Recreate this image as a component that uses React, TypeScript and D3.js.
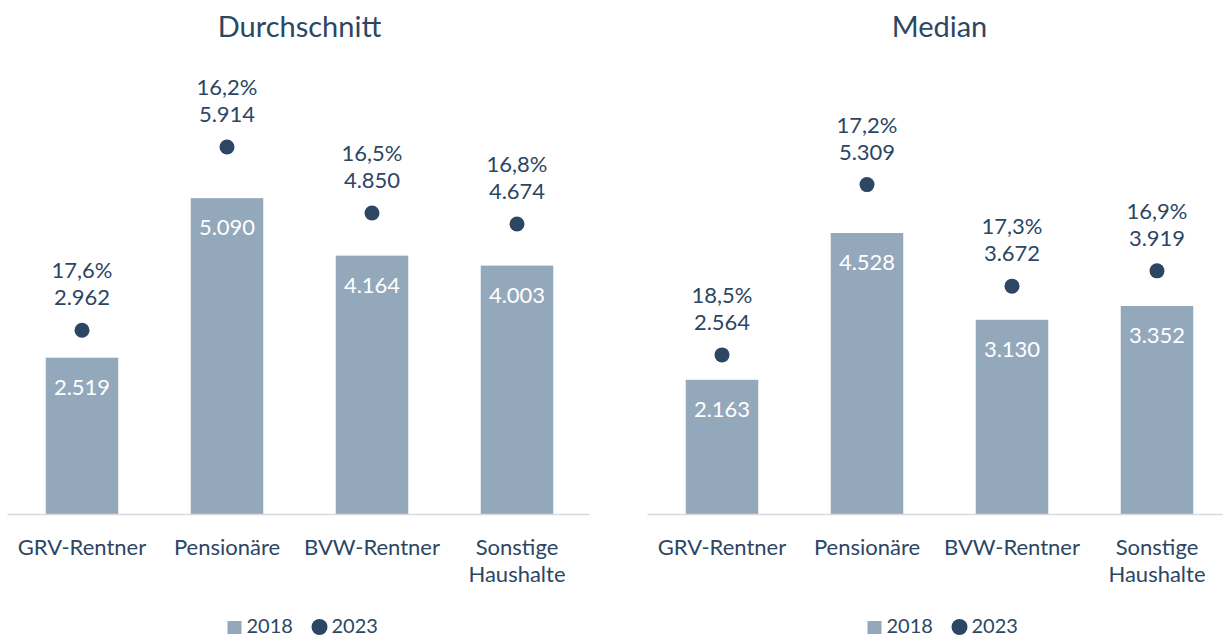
import * as d3 from "d3";

const categories = [["GRV-Rentner"], ["Pensionäre"], ["BVW-Rentner"], ["Sonstige", "Haushalte"]];
const avg2018 = [2519, 5090, 4164, 4003];
const avg2023 = [2962, 5914, 4850, 4674];
const avgGrowth = [17.6, 16.2, 16.5, 16.8];
const med2018 = [2163, 4528, 3130, 3352];
const med2023 = [2564, 5309, 3672, 3919];
const medGrowth = [18.5, 17.2, 17.3, 16.9];

const W = 1223;
const H = 637;
const BASE = 514;
const BAR = "#94a8bb";
const DOT = "#2c4663";
const TEXT = "#2c4663";
const FONT = "Lato, 'Open Sans', sans-serif";

const de = d3.formatLocale({ decimal: ",", thousands: ".", grouping: [3], currency: ["", "€"] });
const fmtNum = de.format(",d");
const fmtPct = (v: number) => de.format(".1f")(v) + "%";

const y = d3.scaleLinear().domain([0, 7000]).range([BASE, BASE - 7000 * 0.06205]);

type PanelProps = {
  title: string;
  x0: number;
  x1: number;
  v2018: number[];
  v2023: number[];
  growth: number[];
};

function Panel({ title, x0, x1, v2018, v2023, growth }: PanelProps) {
  const x = d3
    .scaleBand<number>()
    .domain(categories.map((_, i) => i))
    .range([x0, x1])
    .padding(0.5)
    .paddingOuter(0.25);
  const cx = (i: number) => (x(i) ?? 0) + x.bandwidth() / 2;
  const mid = (x0 + x1) / 2;
  return (
    <g>
      <text x={mid} y={37} textAnchor="middle" fontSize={29} fill={TEXT}>
        {title}
      </text>
      {v2018.map((v, i) => (
        <g key={"b" + i}>
          <rect x={x(i)} y={y(v)} width={x.bandwidth()} height={BASE - y(v)} fill={BAR} />
          <text x={cx(i)} y={y(v) + 37} textAnchor="middle" fontSize={22} fill="#ffffff">
            {fmtNum(v)}
          </text>
        </g>
      ))}
      <line x1={x0 - 2} x2={Math.min(x1, W)} y1={BASE + 0.5} y2={BASE + 0.5} stroke="#d9d9d9" strokeWidth={1.5} />
      {v2023.map((v, i) => (
        <g key={"d" + i}>
          <circle cx={cx(i)} cy={y(v)} r={7.5} fill={DOT} />
          <text x={cx(i)} y={y(v) - 52} textAnchor="middle" fontSize={22} fill={TEXT}>
            {fmtPct(growth[i])}
          </text>
          <text x={cx(i)} y={y(v) - 25} textAnchor="middle" fontSize={22} fill={TEXT}>
            {fmtNum(v)}
          </text>
        </g>
      ))}
      {categories.map((lines, i) => (
        <text key={"c" + i} x={cx(i)} y={555} textAnchor="middle" fontSize={22} fill={TEXT}>
          {lines.map((l, j) => (
            <tspan key={j} x={cx(i)} dy={j === 0 ? 0 : 27}>
              {l}
            </tspan>
          ))}
        </text>
      ))}
      <g transform={`translate(${mid - 72},633)`}>
        <rect x={0} y={-12} width={14} height={13} fill={BAR} />
        <text x={19} y={0} fontSize={20} fill={TEXT}>
          2018
        </text>
        <circle cx={92} cy={-6} r={8} fill={DOT} />
        <text x={104} y={0} fontSize={20} fill={TEXT}>
          2023
        </text>
      </g>
    </g>
  );
}

export default function App() {
  return (
    <svg
      width={W}
      height={H}
      style={{ position: "absolute", left: 0, top: 0, background: "#fff" }}
      fontFamily={FONT}
    >
      <Panel title="Durchschnitt" x0={9.5} x1={589.5} v2018={avg2018} v2023={avg2023} growth={avgGrowth} />
      <Panel title="Median" x0={649.5} x1={1229.5} v2018={med2018} v2023={med2023} growth={medGrowth} />
    </svg>
  );
}
